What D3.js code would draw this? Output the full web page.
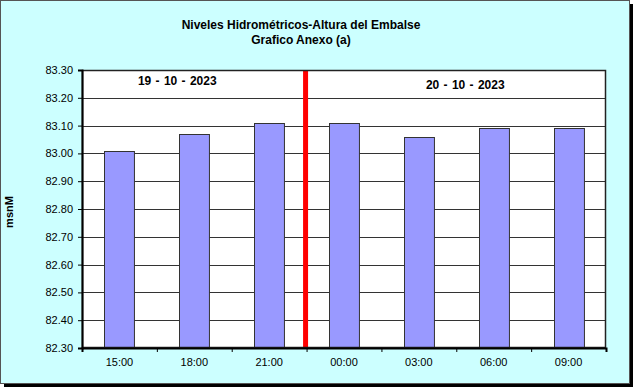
<!DOCTYPE html>
<html>
<head>
<meta charset="utf-8">
<script src="https://cdn.jsdelivr.net/npm/d3@7"></script>
<style>
    body { margin: 0; background: #fff; }
    text { font-family: Arial, "Liberation Sans", sans-serif; }
</style>
</head>
<body>
<div id="chart"></div>
<script>
// data
let horas = ["15:00", "18:00", "21:00", "00:00", "03:00", "06:00", "09:00"];
let niveles = [83.01, 83.07, 83.11, 83.11, 83.06, 83.09, 83.09];
let yTicks = [82.30, 82.40, 82.50, 82.60, 82.70, 82.80, 82.90, 83.00, 83.10, 83.20, 83.30];
let fechas = [
    {label: "19 - 10 - 2023", desde: 0, hasta: 2},
    {label: "20 - 10 - 2023", desde: 3, hasta: 6}
];
let corte = 3; // red line sits before this category

let W = 633, H = 387;
let margin = {top: 70, right: 27, bottom: 39, left: 82};
let width = W - margin.left - margin.right;
let height = H - margin.top - margin.bottom;

let svg = d3.select("#chart").append("svg")
    .attr("width", W)
    .attr("height", H);

// drop shadow + frame
svg.append("rect")
    .attr("x", 4).attr("y", 4)
    .attr("width", W - 4).attr("height", H - 4)
    .attr("fill", "#000");
svg.append("rect")
    .attr("x", 0.5).attr("y", 0.5)
    .attr("width", W - 4).attr("height", H - 4)
    .attr("fill", "#ccffff")
    .attr("stroke", "#555")
    .attr("stroke-width", 1);

// title
svg.append("text")
    .attr("x", 301).attr("y", 29)
    .attr("text-anchor", "middle")
    .style("font-size", "12px").style("font-weight", "bold")
    .text("Niveles Hidrométricos-Altura del Embalse");
svg.append("text")
    .attr("x", 301).attr("y", 44)
    .attr("text-anchor", "middle")
    .style("font-size", "12px").style("font-weight", "bold")
    .text("Grafico Anexo (a)");

// y axis title
svg.append("text")
    .attr("transform", "translate(13," + 212 + ") rotate(-90)")
    .attr("text-anchor", "middle")
    .style("font-size", "11px").style("font-weight", "bold")
    .text("msnM");

let g = svg.append("g")
    .attr("transform", `translate(${margin.left}, ${margin.top})`);

let x = d3.scaleBand()
    .domain(horas)
    .range([0, width])
    .paddingInner(0.6)
    .paddingOuter(0.3);

let y = d3.scaleLinear()
    .domain([82.30, 83.30])
    .range([height, 0]);

// plot background
g.append("rect")
    .attr("width", width).attr("height", height)
    .attr("fill", "#fff");

// gridlines
g.selectAll(".grid")
    .data(yTicks)
    .enter()
    .append("line")
    .attr("x1", 0).attr("x2", width)
    .attr("y1", d => Math.round(y(d)) + 0.5)
    .attr("y2", d => Math.round(y(d)) + 0.5)
    .attr("stroke", "#333")
    .attr("stroke-width", 1);

// bars
g.selectAll(".bar")
    .data(niveles)
    .enter()
    .append("rect")
    .attr("x", (d, i) => Math.round(x(horas[i])) + 0.5)
    .attr("y", d => Math.round(y(d)) + 0.5)
    .attr("width", x.bandwidth())
    .attr("height", d => height - Math.round(y(d)))
    .attr("fill", "#9999ff")
    .attr("stroke", "#333")
    .attr("stroke-width", 1);

// category step used for boundary ticks and red line
let paso = width / horas.length;

// red separator
g.append("line")
    .attr("x1", corte * paso - 1).attr("x2", corte * paso - 1)
    .attr("y1", 0).attr("y2", height)
    .attr("stroke", "#ff0000")
    .attr("stroke-width", 5);

// date labels (the first one sits a bit left of its group centre)
g.selectAll(".fecha")
    .data(fechas)
    .enter()
    .append("text")
    .attr("x", d => (x(horas[d.desde]) + x(horas[d.hasta]) + x.bandwidth()) / 2 + (d.desde === 0 ? -17 : 9))
    .attr("y", (d, i) => i === 0 ? 15 : 19)
    .attr("text-anchor", "middle")
    .style("font-size", "12px").style("font-weight", "bold")
    .style("word-spacing", "1px")
    .text(d => d.label);

// plot frame
g.append("rect")
    .attr("x", 0.5).attr("y", 0.5)
    .attr("width", width - 1).attr("height", height - 1)
    .attr("fill", "none")
    .attr("stroke", "#222")
    .attr("stroke-width", 1.5);

// y axis
let yAxis = d3.axisLeft(y)
    .tickValues(yTicks)
    .tickFormat(d3.format(".2f"))
    .tickSize(4)
    .tickPadding(5);
let gy = g.append("g").call(yAxis);
gy.select(".domain").attr("stroke", "#000").attr("stroke-width", 2);
gy.selectAll(".tick line").attr("stroke", "#000");
gy.selectAll("text").style("font-size", "11px").attr("fill", "#000");

// x axis: ticks on category boundaries, labels centered
let xb = d3.scaleLinear().domain([0, horas.length]).range([0, width]);
let gx = g.append("g")
    .attr("transform", `translate(0, ${height})`)
    .call(d3.axisBottom(xb).ticks(horas.length).tickSize(4).tickFormat(""));
gx.select(".domain").attr("stroke", "#000").attr("stroke-width", 2);
gx.selectAll(".tick line").attr("stroke", "#000");

g.selectAll(".hora")
    .data(horas)
    .enter()
    .append("text")
    .attr("x", d => x(d) + x.bandwidth() / 2)
    .attr("y", height + 18)
    .attr("text-anchor", "middle")
    .style("font-size", "11px")
    .text(d => d);
</script>
</body>
</html>
